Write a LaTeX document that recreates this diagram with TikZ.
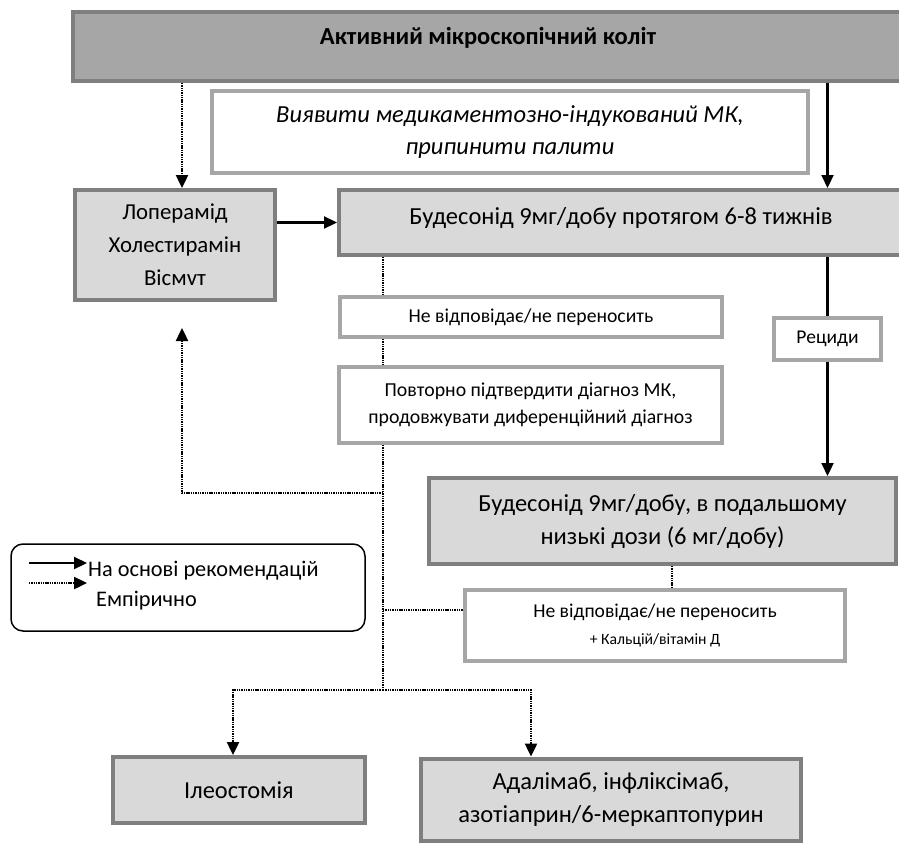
\documentclass[tikz,border=0pt]{standalone}
\usepackage{fontspec}
\setmainfont{Carlito}
\usetikzlibrary{arrows.meta,positioning}
\definecolor{boxline}{HTML}{7F7F7F}
\definecolor{paleline}{HTML}{A6A6A6}
\definecolor{topfill}{HTML}{A6A6A6}
\definecolor{lightfill}{HTML}{D9D9D9}

\begin{document}
\begin{tikzpicture}[
                x=1pt, y=-1pt,
                box/.style={
                        rectangle,
                        inner sep=0pt,
                        align=center,
                        line width=4pt
                    },
                darkbox/.style={box, draw=boxline, fill=topfill},
                graybox/.style={box, draw=boxline, fill=lightfill},
                whitebox/.style={box, draw=paleline, fill=white},
                solidarr/.style={line width=2.2pt, -{Triangle[width=12pt,length=13pt]}},
                emparr/.style={line width=2.4pt, dash pattern=on 1.4pt off 0.9pt, -{Triangle[width=12pt,length=13pt]}},
                empline/.style={line width=2.4pt, dash pattern=on 1.4pt off 0.9pt}
            ]
            \useasboundingbox (0,0) rectangle (899,843);

            % Вузли, розміщені за координатами
            \node[darkbox, minimum width=830pt, minimum height=69pt, text height=17pt, text depth=21pt,
                font=\fontsize{24.5}{29}\selectfont\bfseries] (kolit) at (488,46.5) {Активний мікроскопічний коліт};
            \node[whitebox, minimum width=596pt, minimum height=82pt,
                font=\fontsize{24.5}{32}\selectfont\itshape] (vyyavyty) at (510,132)
                {Виявити медикаментозно-індукований МК,\\припинити палити};
            \node[graybox, minimum width=200pt, minimum height=110pt,
                font=\fontsize{22.8}{33}\selectfont] (loperamid) at (175,245) {Лоперамід\\Холестирамін\\Вісмvт};
            \node[graybox, minimum width=564pt, minimum height=65pt, text height=18pt, text depth=14pt,
                font=\fontsize{24.5}{29}\selectfont] (budes) at (621,222.5) {Будесонід 9мг/добу протягом 6-8 тижнів};
            \node[whitebox, minimum width=382pt, minimum height=40pt,
                font=\fontsize{19.7}{24}\selectfont] (nevidp) at (531,317) {Не відповідає/не переносить};
            \node[whitebox, minimum width=383pt, minimum height=76pt,
                font=\fontsize{19.8}{27}\selectfont] (povtorno) at (530.5,405)
                {Повторно підтвердити діагноз МК,\\продовжувати диференційний діагноз};
            \node[whitebox, minimum width=107pt, minimum height=42pt,
                font=\fontsize{19.5}{24}\selectfont] (retsydy) at (827.5,339) {Рециди};
            \node[graybox, minimum width=467pt, minimum height=86pt,
                font=\fontsize{24.5}{33}\selectfont] (budesnyz) at (662.5,521)
                {Будесонід 9мг/добу, в подальшому\\низькі дози (6 мг/добу)};
            \node[whitebox, minimum width=380pt, minimum height=71pt,
                font=\fontsize{19.6}{27}\selectfont] (kaltsiy) at (655,625.5)
                {Не відповідає/не переносить\\{\fontsize{15.7}{27}\selectfont + Кальцій/вітамін Д}};
            \node[graybox, minimum width=252pt, minimum height=66pt,
                font=\fontsize{24.4}{29}\selectfont] (ileo) at (239,790) {Ілеостомія};
            \node[graybox, minimum width=380pt, minimum height=82pt,
                font=\fontsize{24.5}{33}\selectfont] (adalim) at (611,799.5)
                {Адалімаб, інфліксімаб,\\азотіаприн/6-меркаптопурин};

            % Легенда
            \node[draw, rounded corners=12pt, line width=1.5pt, minimum width=354pt, minimum height=87pt] (legenda) at (188,587.5) {};
            \node[anchor=west, inner sep=0pt, font=\fontsize{22.3}{26}\selectfont] (rekom) at (88,571) {На основі рекомендацій};
            \node[anchor=west, inner sep=0pt, font=\fontsize{22.3}{26}\selectfont] (empir) at (96,601) {Емпірично};
            \coordinate (leg1a) at (29,563);
            \coordinate (leg1b) at (87,563);
            \coordinate (leg2a) at (29,583);
            \coordinate (leg2b) at (87,583);
            \draw[solidarr] (leg1a) -- (leg1b);
            \draw[emparr] (leg2a) -- (leg2b);

            % Точки розгалуження
            \coordinate (vuzol1) at (383,493);
            \coordinate (vuzol2) at (383,610);
            \coordinate (vuzol3) at (383,690);
            \coordinate (povern) at (182,328);

            % Стрілки
            \draw[emparr] ([xshift=7pt]kolit.south -| loperamid.north) -- ([xshift=7pt]loperamid.north);
            \draw[solidarr] (kolit.south -| retsydy.north) -- (budes.north -| retsydy.north);
            \draw[solidarr] (loperamid.east |- budes.west) -- (budes.west);
            \draw[line width=2.2pt] (budes.south -| retsydy.north) -- (retsydy.north);
            \draw[solidarr] (retsydy.south) -- (budesnyz.north -| retsydy.south);

            \draw[empline] (budes.south -| vuzol1) -- (nevidp.north -| vuzol1);
            \draw[empline] (nevidp.south -| vuzol1) -- (povtorno.north -| vuzol1);
            \draw[empline] (povtorno.south -| vuzol1) -- (vuzol3);
            \draw[emparr] (vuzol1) -| (povern);
            \draw[empline] (vuzol2) -- (vuzol2 -| kaltsiy.west);
            \draw[empline] ([xshift=17pt]budesnyz.south -| kaltsiy.north) -- ([xshift=17pt]kaltsiy.north);
            \draw[emparr] (vuzol3) -| ([xshift=-6pt]ileo.north);
            \draw[emparr] (vuzol3) -| ([xshift=-80pt]adalim.north);

        \end{tikzpicture}
\end{document}
